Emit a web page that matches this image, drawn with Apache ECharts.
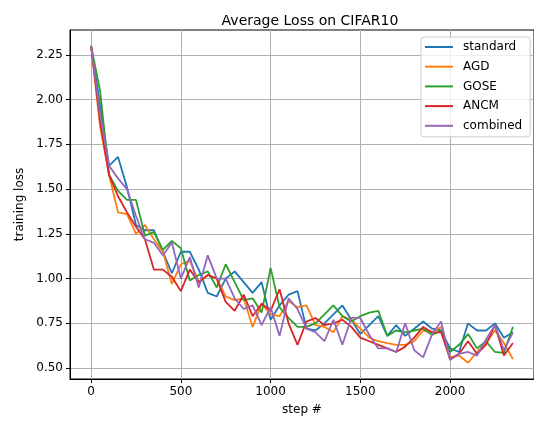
<!DOCTYPE html>
<html>
<head>
    <meta charset="utf-8">
    <script src="https://cdn.jsdelivr.net/npm/echarts@6.0.0/dist/echarts.min.js"></script>
    <style>
        body { margin: 0; background: #fff; }
        #chart { width: 534px; height: 421px; }
    </style>
</head>
<body>
    <div id="chart"></div>
    <script type="text/javascript">
        // steps 0..2350, every 50
        var steps = [];
        for (var s = 0; s <= 2350; s += 50) steps.push(s);

        var xTicks = [0, 500, 1000, 1500, 2000];
        var yTicks = [0.50, 0.75, 1.00, 1.25, 1.50, 1.75, 2.00, 2.25];

        var standard = [2.30, 1.97, 1.63, 1.68, 1.51, 1.30, 1.27, 1.27, 1.15, 1.03,
            1.15, 1.15, 1.05, 0.92, 0.90, 1.00, 1.04, 0.98, 0.92, 0.98,
            0.77, 0.85, 0.91, 0.93, 0.72, 0.71, 0.75, 0.80, 0.85, 0.77,
            0.69, 0.74, 0.79, 0.68, 0.74, 0.68, 0.72, 0.76, 0.72, 0.71,
            0.61, 0.59, 0.75, 0.71, 0.71, 0.75, 0.67, 0.70];
        var agd = [2.30, 1.85, 1.58, 1.37, 1.36, 1.25, 1.30, 1.22, 1.15, 0.97,
            1.08, 1.10, 0.98, 1.02, 1.00, 0.90, 0.88, 0.89, 0.73, 0.86,
            0.80, 0.79, 0.875, 0.84, 0.85, 0.74, 0.73, 0.70, 0.79, 0.77,
            0.72, 0.67, 0.65, 0.64, 0.63, 0.63, 0.65, 0.71, 0.70, 0.73,
            0.56, 0.57, 0.53, 0.59, 0.64, 0.71, 0.64, 0.55];
        var gose = [2.30, 2.05, 1.58, 1.49, 1.44, 1.44, 1.24, 1.26, 1.16, 1.21,
            1.17, 0.99, 1.02, 1.04, 0.95, 1.08, 0.98, 0.88, 0.89, 0.81,
            1.06, 0.84, 0.78, 0.73, 0.73, 0.75, 0.80, 0.85, 0.79, 0.76,
            0.79, 0.81, 0.82, 0.68, 0.71, 0.70, 0.71, 0.72, 0.685, 0.71,
            0.59, 0.63, 0.69, 0.61, 0.65, 0.59, 0.585, 0.73];
        var ancm = [2.30, 1.88, 1.58, 1.46, 1.37, 1.29, 1.22, 1.05, 1.05, 1.01,
            0.93, 1.05, 0.98, 1.02, 1.00, 0.87, 0.82, 0.91, 0.79, 0.86,
            0.82, 0.94, 0.75, 0.63, 0.76, 0.78, 0.74, 0.75, 0.77, 0.73,
            0.67, 0.65, 0.63, 0.61, 0.59, 0.62, 0.67, 0.73, 0.70, 0.70,
            0.55, 0.58, 0.65, 0.58, 0.63, 0.74, 0.57, 0.64];
        var combined = [2.30, 1.92, 1.63, 1.56, 1.50, 1.35, 1.22, 1.20, 1.13, 1.20,
            1.00, 1.12, 0.95, 1.13, 1.00, 1.00, 0.89, 0.83, 0.85, 0.74,
            0.84, 0.68, 0.89, 0.83, 0.72, 0.70, 0.65, 0.77, 0.63, 0.78,
            0.78, 0.685, 0.61, 0.61, 0.59, 0.75, 0.60, 0.56, 0.69, 0.76,
            0.545, 0.58, 0.59, 0.57, 0.66, 0.74, 0.60, 0.70];

        var names = ['standard', 'AGD', 'GOSE', 'ANCM', 'combined'];
        var colors = ['#1f77b4', '#ff7f0e', '#2ca02c', '#d62728', '#9467bd'];
        var values = [standard, agd, gose, ancm, combined];

        function pairs(arr) {
            return arr.map(function (v, i) { return [steps[i], v]; });
        }

        var font = 'DejaVu Sans';
        var series = names.map(function (n, k) {
            return {
                name: n,
                type: 'line',
                data: pairs(values[k]),
                showSymbol: false,
                symbol: 'none',
                lineStyle: { color: colors[k], width: 1.8 },
                itemStyle: { color: colors[k] },
                z: 3 + k
            };
        });

        var option = {
            animation: false,
            backgroundColor: '#fff',
            color: colors,
            title: {
                text: 'Average Loss on CIFAR10',
                left: 305,
                textAlign: 'center',
                top: 9,
                textStyle: { fontFamily: font, fontSize: 14, fontWeight: 'normal', color: '#000' }
            },
            legend: {
                data: names.map(function (n) { return { name: n, icon: 'rect' }; }),
                orient: 'vertical',
                left: 421,
                top: 37,
                padding: [3, 8, 4, 4],
                itemWidth: 28,
                itemHeight: 2,
                itemGap: 5.7,
                backgroundColor: 'rgba(255,255,255,0.8)',
                borderColor: '#cccccc',
                borderWidth: 1,
                borderRadius: 3,
                textStyle: { fontFamily: font, fontSize: 12, color: '#000', lineHeight: 14, padding: [0, 0, 0, 5] }
            },
            grid: {
                left: 70,
                top: 30,
                width: 469.6,
                height: 350,
                show: true,
                borderColor: '#000',
                borderWidth: 1
            },
            xAxis: {
                type: 'value',
                min: -117.5,
                max: 2467.5,
                name: 'step #',
                nameLocation: 'middle',
                nameGap: 25,
                nameTextStyle: { fontFamily: font, fontSize: 12, color: '#000' },
                axisLine: { show: true, onZero: false, lineStyle: { color: '#000', width: 1 } },
                axisTick: { show: true, length: 4, customValues: xTicks, lineStyle: { color: '#000' } },
                axisLabel: {
                    margin: 7,
                    customValues: xTicks,
                    fontFamily: font, fontSize: 12, color: '#000',
                    formatter: function (v) { return String(v); }
                },
                splitLine: { show: true, lineStyle: { color: '#b0b0b0', width: 1 } }
            },
            yAxis: {
                type: 'value',
                min: 0.439,
                max: 2.389,
                name: 'training loss',
                nameLocation: 'middle',
                nameGap: 44,
                nameTextStyle: { fontFamily: font, fontSize: 12, color: '#000' },
                axisLine: { show: true, onZero: false, lineStyle: { color: '#000', width: 1 } },
                axisTick: { show: true, length: 4, customValues: yTicks, lineStyle: { color: '#000' } },
                axisLabel: {
                    margin: 7,
                    customValues: yTicks,
                    fontFamily: font, fontSize: 12, color: '#000',
                    formatter: function (v) { return v.toFixed(2); }
                },
                splitLine: { show: true, lineStyle: { color: '#b0b0b0', width: 1 } }
            },
            series: series
        };

        var myChart = echarts.init(document.getElementById('chart'));
        myChart.setOption(option);
    </script>
</body>
</html>
